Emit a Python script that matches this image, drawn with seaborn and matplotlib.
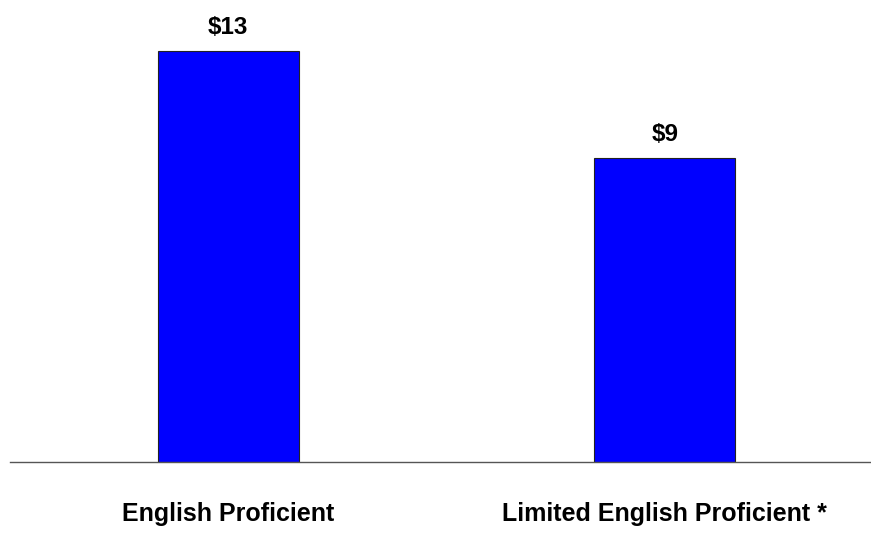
import matplotlib
matplotlib.use('Agg')
import matplotlib.pyplot as plt
import seaborn as sns
import pandas as pd

# Dados do gráfico
categorias = ['English Proficient', 'Limited English Proficient *']
valores = [12.7, 9.4]
rotulos = ['$13', '$9']

df = pd.DataFrame({'grupo': categorias, 'valor': valores})

sns.set_style('white')
plt.rcParams['font.family'] = ['Liberation Sans', 'DejaVu Sans']
plt.rcParams['text.color'] = 'black'
plt.rcParams['xtick.color'] = 'black'

fig = plt.figure(figsize=(8.71, 5.42), dpi=100)
ax = fig.add_axes([10 / 871, 80 / 542, 861 / 871, 453 / 542])

sns.barplot(data=df, x='grupo', y='valor', color='#0000FF', width=0.323,
            edgecolor='#222222', linewidth=0.8, saturation=1, ax=ax)

for i, (v, r) in enumerate(zip(valores, rotulos)):
    ax.text(i, v + 0.38, r, ha='center', va='bottom', fontsize=17.5,
            fontweight='bold', color='black')

ax.set_xlim(-0.5, 1.472)
ax.set_ylim(0, 14)
ax.set_xlabel('')
ax.set_ylabel('')
ax.set_yticks([])
ax.tick_params(axis='x', length=0, pad=29)
for lbl in ax.get_xticklabels():
    lbl.set_fontsize(18)
    lbl.set_fontweight('bold')
    lbl.set_color('black')

for lado in ['top', 'right', 'left']:
    ax.spines[lado].set_visible(False)
ax.spines['bottom'].set_color('#555555')
ax.spines['bottom'].set_linewidth(1)

fig.savefig('out.png', dpi=100)
